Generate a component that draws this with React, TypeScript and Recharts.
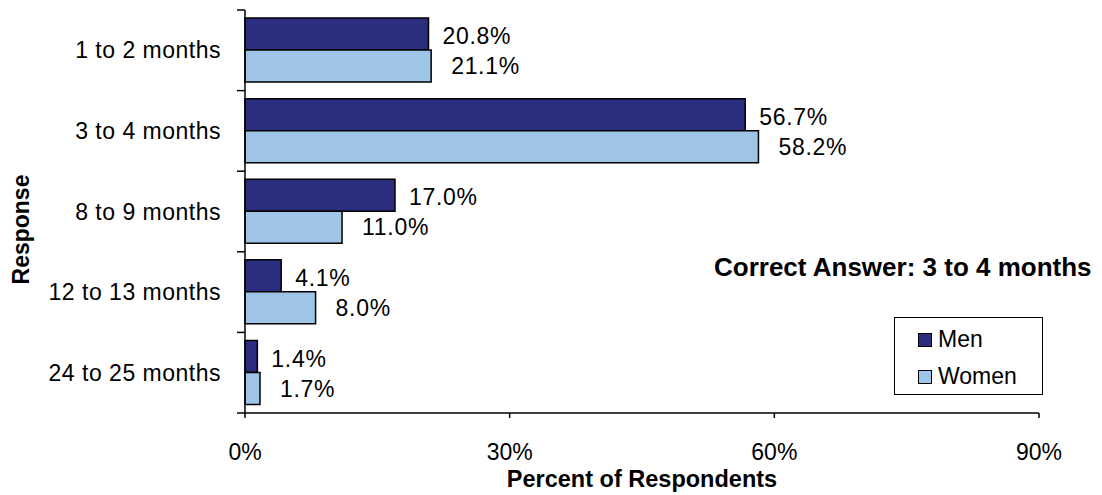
import React from 'react';
import { BarChart, Bar, XAxis, YAxis, LabelList } from 'recharts';

const categories = ['1 to 2 months', '3 to 4 months', '8 to 9 months', '12 to 13 months', '24 to 25 months'];
const men = [20.8, 56.7, 17.0, 4.1, 1.4];
const women = [21.1, 58.2, 11.0, 8.0, 1.7];
const xTicks = [0, 30, 60, 90];

const data = categories.map((name, i) => ({ name, Men: men[i], Women: women[i] }));

const FONT = '"Liberation Sans", Arial, sans-serif';
const MEN_COLOR = '#2B2D7E';
const WOMEN_COLOR = '#9EC4E8';

// y ticks: label at the band centre, tick marks on the band edges
const BandTick = (props: any) => {
  const { x, y, payload, index, visibleTicksCount } = props;
  const half = payload.offset || 40.3;
  return (
    <g>
      <line x1={x - 8} x2={x} y1={y - half} y2={y - half} stroke="#000" strokeWidth={1.5} />
      {index === visibleTicksCount - 1 && (
        <line x1={x - 8} x2={x} y1={y + half} y2={y + half} stroke="#000" strokeWidth={1.5} />
      )}
      <text
        x={x - 24}
        y={y}
        dy={8}
        textAnchor="end"
        fontSize={23}
        letterSpacing={0.5}
        fill="#000"
        fontFamily={FONT}
      >
        {payload.value}
      </text>
    </g>
  );
};

const legendItems = [
  { label: 'Men', color: MEN_COLOR },
  { label: 'Women', color: WOMEN_COLOR },
];

const pct = (v: any) => `${Number(v).toFixed(1)}%`;

export default function App() {
  return (
    <div style={{ position: 'absolute', left: 0, top: 0, width: 1102, height: 495, background: '#fff', fontFamily: FONT }}>
      <BarChart
        width={1102}
        height={495}
        data={data}
        layout="vertical"
        margin={{ top: 10, right: 63, bottom: 0, left: 0 }}
        barCategoryGap="10%"
        barGap={0}
      >
        <XAxis
          type="number"
          domain={[0, 90]}
          ticks={xTicks}
          tickFormatter={(v) => `${v}%`}
          height={82}
          tickSize={5}
          tickMargin={26}
          axisLine={{ stroke: '#000', strokeWidth: 1.5 }}
          tickLine={{ stroke: '#000', strokeWidth: 1.5 }}
          tick={{ fill: '#000', fontSize: 23, fontFamily: FONT }}
          label={{
            value: 'Percent of Respondents',
            position: 'insideBottom',
            offset: 8,
            fill: '#000',
            fontSize: 23.5,
            fontWeight: 'bold',
            fontFamily: FONT,
          }}
        />
        <YAxis
          type="category"
          dataKey="name"
          width={245}
          tickLine={false}
          tickSize={0}
          tickMargin={0}
          axisLine={{ stroke: '#000', strokeWidth: 1.5 }}
          tick={<BandTick />}
          label={{
            value: 'Response',
            angle: -90,
            position: 'insideLeft',
            offset: 21,
            dy: 18,
            fill: '#000',
            fontSize: 23,
            fontWeight: 'bold',
            fontFamily: FONT,
            style: { textAnchor: 'middle' },
          }}
        />
        <Bar dataKey="Men" fill={MEN_COLOR} stroke="#000" strokeWidth={1.5} isAnimationActive={false}>
          <LabelList
            dataKey="Men"
            position="right"
            offset={14}
            formatter={pct}
            fill="#000"
            fontSize={23}
            letterSpacing={0.7}
            fontFamily={FONT}
            dy={2}
          />
        </Bar>
        <Bar dataKey="Women" fill={WOMEN_COLOR} stroke="#000" strokeWidth={1.5} isAnimationActive={false}>
          <LabelList
            dataKey="Women"
            position="right"
            offset={20}
            formatter={pct}
            fill="#000"
            fontSize={23}
            letterSpacing={0.7}
            fontFamily={FONT}
          />
        </Bar>
      </BarChart>
      <div
        style={{
          position: 'absolute',
          left: 894,
          top: 317,
          width: 149,
          height: 78,
          border: '1.5px solid #000',
          boxSizing: 'border-box',
          background: '#fff',
          fontSize: 23,
          paddingTop: 3,
          paddingLeft: 23,
        }}
      >
        {legendItems.map((it) => (
          <div key={it.label} style={{ display: 'flex', alignItems: 'center', height: 37 }}>
            <span
              style={{
                display: 'inline-block',
                width: 12,
                height: 12,
                background: it.color,
                border: '1.5px solid #000',
                marginRight: 6,
              }}
            />
            <span>{it.label}</span>
          </div>
        ))}
      </div>
      <div
        style={{
          position: 'absolute',
          left: 714,
          top: 254,
          fontSize: 26,
          fontWeight: 'bold',
          lineHeight: '26px',
          whiteSpace: 'nowrap',
          color: '#000',
        }}
      >
        Correct Answer: 3 to 4 months
      </div>
    </div>
  );
}
